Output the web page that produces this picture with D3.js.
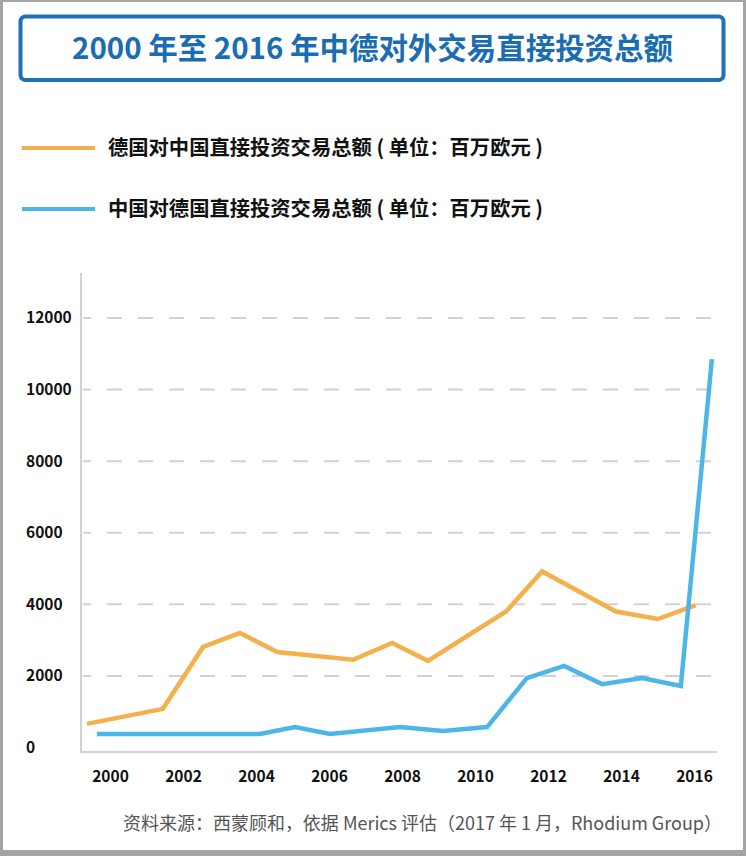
<!DOCTYPE html>
<html>
<head>
<meta charset="utf-8">
<script src="https://cdn.jsdelivr.net/npm/d3@7"></script>
<style>
  html, body { margin: 0; padding: 0; background: #fff; }
  svg { display: block; }
  text { font-family: "Noto Sans CJK SC", "Noto Sans", sans-serif; }
</style>
</head>
<body>
<svg id="chart" width="746" height="856"></svg>
<script>
// ---------- data ----------
const title = "2000 年至 2016 年中德对外交易直接投资总额";
const seriesNames = [
  "德国对中国直接投资交易总额 ( 单位：百万欧元 )",
  "中国对德国直接投资交易总额 ( 单位：百万欧元 )"
];
const sourceText = "资料来源：西蒙顾和，依据 Merics 评估（2017 年 1 月，Rhodium Group）";

const xTickYears = [2000, 2002, 2004, 2006, 2008, 2010, 2012, 2014, 2016];
const yTickValues = [0, 2000, 4000, 6000, 8000, 10000, 12000];

// Germany -> China (positions along time axis)
const deToCnYears  = [1999.37, 2001.45, 2002.55, 2003.56, 2004.58, 2006.66, 2007.73, 2008.71, 2010.85, 2011.84, 2013.86, 2015.01, 2016.05];
const deToCnValues = [660, 1080, 2810, 3200, 2670, 2450, 2920, 2420, 3800, 4920, 3800, 3590, 3980];

// China -> Germany
const cnToDeYears  = [1999.64, 2004.11, 2005.07, 2006.03, 2007.95, 2009.12, 2010.33, 2011.42, 2012.44, 2013.48, 2014.58, 2015.64, 2016.49];
const cnToDeValues = [380, 380, 570, 380, 570, 460, 570, 1940, 2280, 1770, 1940, 1720, 10850];

const colors = ["#F3B04C", "#4DB6E9"];

// ---------- drawing ----------
const svg = d3.select("#chart");

// outer frame
svg.append("rect").attr("x", 0).attr("y", 0).attr("width", 746).attr("height", 856).attr("fill", "#a4a4a4");
svg.append("rect").attr("x", 3).attr("y", 2).attr("width", 740).attr("height", 848).attr("fill", "#ffffff");

// title box
svg.append("rect")
  .attr("x", 20.5).attr("y", 16.5).attr("width", 703).attr("height", 63.5)
  .attr("rx", 5).attr("ry", 5)
  .attr("fill", "none").attr("stroke", "#1F70B6").attr("stroke-width", 4);

svg.append("text")
  .attr("x", 372.5).attr("y", 59)
  .attr("text-anchor", "middle")
  .attr("font-size", 30).attr("font-weight", 700)
  .attr("fill", "#1A6DB3")
  .attr("textLength", 601).attr("lengthAdjust", "spacingAndGlyphs")
  .text(title);

// legend
const legendY = [148, 209];
seriesNames.forEach((name, i) => {
  svg.append("line")
    .attr("x1", 22).attr("x2", 95)
    .attr("y1", legendY[i]).attr("y2", legendY[i])
    .attr("stroke", colors[i]).attr("stroke-width", 4);
  svg.append("text")
    .attr("x", 108).attr("y", legendY[i])
    .attr("dy", "0.36em")
    .attr("font-size", 20.5).attr("font-weight", 700)
    .attr("fill", "#111")
    .attr("textLength", 435).attr("lengthAdjust", "spacingAndGlyphs")
    .text(name);
});

// scales
const x = d3.scaleLinear().domain([2000, 2016]).range([110, 694]);
const y = d3.scaleLinear().domain([0, 12000]).range([747.5, 318]);

// gridlines
svg.append("g")
  .selectAll("line")
  .data(yTickValues.filter(v => v > 0))
  .join("line")
  .attr("x1", 83).attr("x2", 717)
  .attr("y1", d => y(d)).attr("y2", d => y(d))
  .attr("stroke", "#d2d2d2").attr("stroke-width", 2)
  .attr("stroke-dasharray", "15,16").attr("stroke-dashoffset", 7);

// axis lines
svg.append("line").attr("x1", 81).attr("x2", 81).attr("y1", 273).attr("y2", 753)
  .attr("stroke", "#d2d2d2").attr("stroke-width", 2);
svg.append("line").attr("x1", 80).attr("x2", 717).attr("y1", 752).attr("y2", 752)
  .attr("stroke", "#d2d2d2").attr("stroke-width", 2);

// y axis labels
const yAxis = svg.append("g")
  .attr("transform", "translate(26,0)")
  .call(d3.axisRight(y).tickValues(yTickValues).tickSize(0).tickPadding(0).tickFormat(d3.format("d")));
yAxis.select(".domain").remove();
yAxis.selectAll("text")
  .attr("font-family", "'Noto Sans CJK SC', 'Noto Sans', sans-serif")
  .attr("font-size", 15.5).attr("font-weight", 700).attr("fill", "#111");

// x axis labels
const xAxis = svg.append("g")
  .attr("transform", "translate(0,752)")
  .call(d3.axisBottom(x).tickValues(xTickYears).tickSize(0).tickPadding(19).tickFormat(d3.format("d")));
xAxis.select(".domain").remove();
xAxis.selectAll("text")
  .attr("font-family", "'Noto Sans CJK SC', 'Noto Sans', sans-serif")
  .attr("font-size", 15.5).attr("font-weight", 700).attr("fill", "#111");

// lines
const line = d3.line().x(d => x(d[0])).y(d => y(d[1]));
const series = [
  d3.zip(deToCnYears, deToCnValues),
  d3.zip(cnToDeYears, cnToDeValues)
];
series.forEach((s, i) => {
  svg.append("path")
    .datum(s)
    .attr("d", line)
    .attr("fill", "none")
    .attr("stroke", colors[i])
    .attr("stroke-width", 4.5)
    .attr("stroke-linejoin", "miter")
    .attr("stroke-linecap", "butt");
});

// source
svg.append("text")
  .attr("x", 722).attr("y", 830)
  .attr("text-anchor", "end")
  .attr("font-size", 18)
  .attr("fill", "#555")
  .attr("textLength", 599).attr("lengthAdjust", "spacingAndGlyphs")
  .text(sourceText);
</script>
</body>
</html>
